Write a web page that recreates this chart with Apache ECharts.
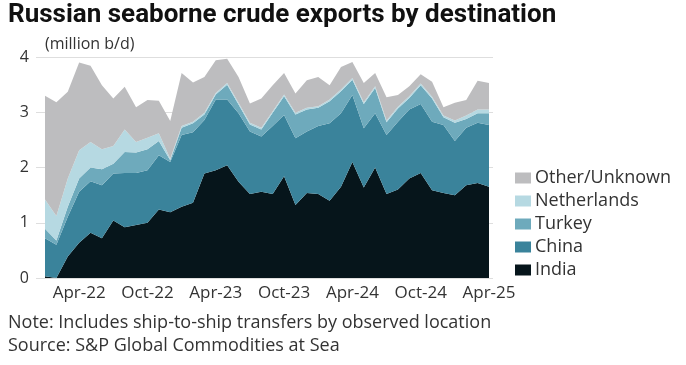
<!DOCTYPE html>
<html><head><meta charset="utf-8">
<script src="https://cdn.jsdelivr.net/npm/echarts@6/dist/echarts.min.js"></script>
<style>html,body{margin:0;padding:0;background:#fff}#c{width:686px;height:365px}</style>
</head><body><div id="c"></div>
<script>
const months = ['Jan-22','Feb-22','Mar-22','Apr-22','May-22','Jun-22','Jul-22','Aug-22','Sep-22','Oct-22','Nov-22','Dec-22',
'Jan-23','Feb-23','Mar-23','Apr-23','May-23','Jun-23','Jul-23','Aug-23','Sep-23','Oct-23','Nov-23','Dec-23',
'Jan-24','Feb-24','Mar-24','Apr-24','May-24','Jun-24','Jul-24','Aug-24','Sep-24','Oct-24','Nov-24','Dec-24',
'Jan-25','Feb-25','Mar-25','Apr-25'];
const india = [0.03,0,0.39,0.64,0.82,0.72,1.04,0.92,0.96,1.00,1.24,1.19,1.29,1.36,1.89,1.95,2.04,1.74,1.52,1.56,1.52,1.84,1.32,1.54,1.52,1.40,1.65,2.10,1.64,2.00,1.52,1.60,1.80,1.90,1.59,1.54,1.50,1.68,1.72,1.65];
const china = [0.69,0.60,0.72,0.92,0.93,0.96,0.85,0.98,0.94,0.95,0.98,0.91,1.30,1.28,0.97,1.28,1.19,1.24,1.13,1.00,1.23,1.11,1.21,1.11,1.23,1.40,1.33,1.21,1.07,0.98,1.07,1.23,1.25,1.25,1.24,1.23,0.98,1.04,1.09,1.12];
const turkey = [0.17,0.08,0.18,0.24,0.25,0.29,0.18,0.38,0.37,0.38,0.26,0.03,0.13,0.16,0.10,0.09,0.27,0.16,0.13,0.13,0.24,0.34,0.43,0.40,0.33,0.40,0.40,0.28,0.44,0.46,0.23,0.24,0.21,0.34,0.42,0.14,0.33,0.16,0.17,0.21];
const netherlands = [0.53,0.44,0.51,0.51,0.46,0.36,0.32,0.41,0.19,0.21,0.14,0.03,0.03,0.03,0.03,0.03,0.03,0.03,0.03,0.03,0.03,0.03,0.03,0.03,0.03,0.03,0.03,0.03,0.03,0.03,0.03,0.03,0.03,0.03,0.03,0.03,0.04,0.06,0.07,0.07];
const other = [1.88,2.06,1.57,1.59,1.38,1.16,0.86,0.77,0.63,0.68,0.59,0.68,0.96,0.71,0.65,0.59,0.44,0.47,0.35,0.53,0.47,0.39,0.35,0.50,0.53,0.26,0.41,0.29,0.35,0.24,0.42,0.21,0.18,0.17,0.27,0.15,0.32,0.28,0.52,0.48];
const yTicks = [0,1,2,3,4];

const FONT = '"Open Sans"';
const TFONT = 'Roboto';
const colors = {India:'#06151b', China:'#3a839b', Turkey:'#6eaabc', Netherlands:'#b6d9e2', 'Other/Unknown':'#bdbdbf'};
const seriesDefs = [['India',india],['China',china],['Turkey',turkey],['Netherlands',netherlands],['Other/Unknown',other]];

const chart = echarts.init(document.getElementById('c'), null, {renderer:'canvas'});
chart.setOption({
  animation:false,
  textStyle:{fontFamily:FONT},
  title:[
    {text:'Russian seaborne crude exports by destination', left:8, top:2, padding:0,
     textStyle:{fontFamily:TFONT, fontSize:26, fontWeight:'bold', color:'#111'}},
    {text:'(million b/d)', left:45, top:36, padding:0, textStyle:{fontFamily:FONT, fontSize:16, fontWeight:'normal', color:'#333'}},
    {text:'Note: Includes ship-to-ship transfers by observed location\nSource: S&P Global Commodities at Sea', left:8, top:312, padding:0,
     textStyle:{fontFamily:FONT, fontSize:18, fontWeight:'normal', color:'#333', lineHeight:22.5}}
  ],
  legend:{
    orient:'vertical', left:515, top:169, padding:0, itemWidth:16, itemHeight:11, itemGap:5, itemStyle:{borderWidth:0},
    textStyle:{fontFamily:FONT, fontSize:18, color:'#333', padding:[0,0,0,-1]},
    data:['Other/Unknown','Netherlands','Turkey','China','India'].map(n=>({name:n, icon:'rect'}))
  },
  grid:[
    {left:36, right:193, top:57, bottom:87},
    {left:45, right:197, top:57, bottom:87}
  ],
  xAxis:[
    {type:'category', gridIndex:0, data:months, show:false},
    {type:'category', gridIndex:1, data:months, boundaryGap:false,
     axisLine:{show:false}, axisTick:{show:false},
     axisLabel:{interval:(i)=> i%6===3, fontFamily:FONT, fontSize:17, color:'#333', margin:7}}
  ],
  yAxis:[
    {type:'value', gridIndex:0, min:0, max:4, interval:1,
     axisLine:{show:false}, axisTick:{show:false},
     axisLabel:{fontFamily:FONT, fontSize:16, color:'#333', margin:7,
       formatter:(v)=> yTicks.includes(v) ? String(v) : ''},
     splitLine:{lineStyle:{color:'#dedede', width:1}}},
    {type:'value', gridIndex:1, min:0, max:4, interval:1, show:false, splitLine:{show:false}}
  ],
  series: seriesDefs.map(([name,arr])=>({
    name, type:'line', xAxisIndex:1, yAxisIndex:1, stack:'total', data:arr,
    symbol:'none', lineStyle:{width:0}, itemStyle:{color:colors[name]},
    areaStyle:{color:colors[name], opacity:1}, z:2
  }))
});
</script></body></html>
